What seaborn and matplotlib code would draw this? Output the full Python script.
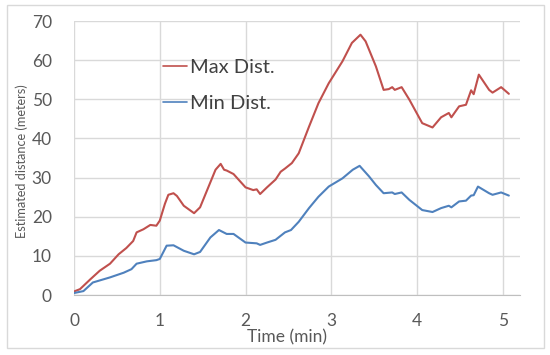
import pandas as pd
import matplotlib.pyplot as plt
import seaborn as sns

# Values
max_time = [0, 0.07, 0.19, 0.30, 0.42, 0.52, 0.61, 0.69, 0.73, 0.81, 0.89, 0.96, 1.0,
            1.06, 1.10, 1.16, 1.20, 1.28, 1.40, 1.47, 1.59, 1.65, 1.71, 1.75, 1.78, 1.86,
            2.0, 2.09, 2.13, 2.17, 2.25, 2.35, 2.41, 2.46, 2.54, 2.62, 2.74, 2.85, 2.97,
            3.13, 3.24, 3.34, 3.40, 3.52, 3.61, 3.67, 3.71, 3.74, 3.82, 3.91, 4.06, 4.18,
            4.28, 4.37, 4.40, 4.49, 4.57, 4.63, 4.66, 4.72, 4.84, 4.88, 4.98, 5.07]
max_dist = [0.9, 1.5, 4.0, 6.2, 8.0, 10.4, 12.0, 13.8, 16.0, 16.8, 17.9, 17.7, 19.0,
            23.3, 25.6, 26.0, 25.3, 22.8, 20.9, 22.4, 28.8, 32.0, 33.5, 32.0, 31.8, 30.9,
            27.5, 26.8, 27.0, 25.8, 27.5, 29.5, 31.5, 32.3, 33.7, 36.2, 43.0, 49.0, 54.1,
            59.7, 64.4, 66.5, 64.8, 58.4, 52.4, 52.6, 53.1, 52.4, 53.1, 49.9, 43.9, 42.8,
            45.4, 46.5, 45.4, 48.2, 48.6, 52.3, 51.3, 56.3, 52.4, 51.7, 53.1, 51.4]

min_time = [0, 0.11, 0.22, 0.42, 0.58, 0.67, 0.73, 0.85, 0.96, 1.0, 1.08, 1.16, 1.28,
            1.40, 1.47, 1.59, 1.69, 1.78, 1.86, 2.0, 2.13, 2.17, 2.25, 2.35, 2.46, 2.53,
            2.62, 2.74, 2.85, 2.97, 3.13, 3.25, 3.33, 3.44, 3.52, 3.61, 3.71, 3.74, 3.82,
            3.91, 4.06, 4.18, 4.28, 4.37, 4.40, 4.49, 4.57, 4.63, 4.66, 4.71, 4.84, 4.88,
            4.98, 5.07]
min_dist = [0.5, 1.0, 3.2, 4.5, 5.7, 6.6, 8.0, 8.6, 8.9, 9.2, 12.6, 12.7, 11.3,
            10.4, 11.0, 14.7, 16.6, 15.6, 15.6, 13.4, 13.2, 12.8, 13.4, 14.1, 16.0, 16.6,
            18.7, 22.2, 25.1, 27.7, 29.8, 32.0, 33.0, 30.3, 28.1, 26.0, 26.2, 25.8, 26.2,
            24.3, 21.7, 21.2, 22.2, 22.8, 22.4, 23.9, 24.1, 25.4, 25.5, 27.7, 26.0, 25.6,
            26.2, 25.4]

series_names = ["Max Dist.", "Min Dist."]
colors = {"Max Dist.": "#C0504D", "Min Dist.": "#4F81BD"}

df = pd.concat([
    pd.DataFrame({"Time": max_time, "Distance": max_dist, "Series": series_names[0]}),
    pd.DataFrame({"Time": min_time, "Distance": min_dist, "Series": series_names[1]}),
], ignore_index=True)

sns.set_style("whitegrid")
plt.rcParams['font.family'] = ['Lato', 'DejaVu Sans']
text_color = "#595959"

fig = plt.figure(figsize=(5.5, 3.55), dpi=100)
ax = fig.add_axes([74 / 550, 1 - 295 / 355, 446 / 550, 274 / 355])

sns.lineplot(data=df, x="Time", y="Distance", hue="Series", palette=colors,
             sort=False, estimator=None, linewidth=1.5, ax=ax)

ax.set_xlim(0, 5.2)
ax.set_ylim(0, 70)
ax.set_xticks(range(0, 6))
ax.set_yticks(range(0, 71, 10))
ax.grid(True, color="#D9D9D9", linewidth=1)
for side in ["top", "right", "left"]:
    ax.spines[side].set_visible(False)
ax.spines["bottom"].set_color("#BFBFBF")
ax.tick_params(axis="both", length=0, colors=text_color, labelsize=12.5)
ax.tick_params(axis="x", pad=13)
ax.tick_params(axis="y", pad=16)

ax.set_xlabel("Time (min)", fontsize=12.5, color=text_color)
ax.set_ylabel("Estimated distance (meters)", fontsize=9.2, color=text_color)
ax.xaxis.set_label_coords(0.478, -0.125)
ax.yaxis.set_label_coords(-0.103, 0.49)

leg = ax.legend(loc="upper left", bbox_to_anchor=(0.199, 0.86), frameon=False,
                fontsize=14.5, handlelength=1.2, handletextpad=0.15,
                borderpad=0, borderaxespad=0, labelspacing=0.9)
for txt in leg.get_texts():
    txt.set_color("#404040")
for line in leg.get_lines():
    line.set_linewidth(1.2)

# outer chart border
fig.patches.append(plt.Rectangle((7 / 550, 1 - 348 / 355), 537 / 550, 343 / 355,
                                 transform=fig.transFigure, fill=False,
                                 edgecolor="#D9D9D9", linewidth=1))

plt.savefig("out.png", dpi=100)
